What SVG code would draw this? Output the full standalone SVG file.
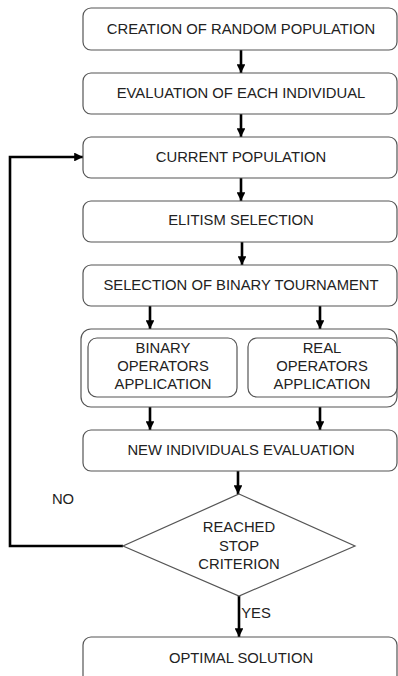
<svg xmlns="http://www.w3.org/2000/svg" width="398" height="676" viewBox="0 0 398 676">
  <style>
    .box { fill: #ffffff; stroke: #555555; stroke-width: 1.2; }
    .lbl { font-family: "Liberation Sans", Arial, sans-serif; font-size: 14.8px; fill: #222222; text-anchor: middle; dominant-baseline: central; }
    .edge { fill: none; stroke: #000000; stroke-width: 2.6; }
  </style>
  <defs>
    <marker id="arrow" viewBox="0 0 10 10" refX="10" refY="5" markerWidth="3.4" markerHeight="3.4" orient="auto" markerUnits="strokeWidth">
      <path d="M0,0 L10,5 L0,10 Z" fill="#000000"/>
    </marker>
  </defs>
  <rect width="398" height="676" fill="#ffffff"/>

  <g id="connectors">
    <line class="edge" x1="241" y1="50" x2="241" y2="73" marker-end="url(#arrow)"/>
    <line class="edge" x1="241" y1="114" x2="241" y2="137" marker-end="url(#arrow)"/>
    <line class="edge" x1="241" y1="178" x2="241" y2="201" marker-end="url(#arrow)"/>
    <line class="edge" x1="242" y1="242" x2="242" y2="265" marker-end="url(#arrow)"/>
    <line class="edge" x1="150" y1="306" x2="150" y2="329" marker-end="url(#arrow)"/>
    <line class="edge" x1="320" y1="306" x2="320" y2="329" marker-end="url(#arrow)"/>
    <line class="edge" x1="150" y1="407" x2="150" y2="430" marker-end="url(#arrow)"/>
    <line class="edge" x1="320" y1="407" x2="320" y2="430" marker-end="url(#arrow)"/>
    <line class="edge" x1="238" y1="471" x2="238" y2="494" marker-end="url(#arrow)"/>
    <line class="edge" x1="239" y1="596" x2="239" y2="637" marker-end="url(#arrow)"/>
    <polyline class="edge" points="123,546 10,546 10,157 83,157" marker-end="url(#arrow)"/>
    <text class="lbl" x="63" y="499">NO</text>
    <text class="lbl" x="256" y="613">YES</text>
  </g>

  <g id="creation">
    <rect class="box" x="83" y="8" width="314" height="42" rx="8"/>
    <text class="lbl" x="241" y="29">CREATION OF RANDOM POPULATION</text>
  </g>
  <g id="evaluation">
    <rect class="box" x="83" y="73" width="314" height="41" rx="8"/>
    <text class="lbl" x="241" y="93">EVALUATION OF EACH INDIVIDUAL</text>
  </g>
  <g id="current">
    <rect class="box" x="83" y="137" width="314" height="41" rx="8"/>
    <text class="lbl" x="241" y="157">CURRENT POPULATION</text>
  </g>
  <g id="elitism">
    <rect class="box" x="83" y="201" width="314" height="41" rx="8"/>
    <text class="lbl" x="241" y="220">ELITISM SELECTION</text>
  </g>
  <g id="tournament">
    <rect class="box" x="83" y="265" width="314" height="41" rx="8"/>
    <text class="lbl" x="241" y="285">SELECTION OF BINARY TOURNAMENT</text>
  </g>
  <g id="operators">
    <rect class="box" x="81" y="329" width="316" height="78" rx="10"/>
    <g id="binary-ops">
      <rect class="box" x="88" y="338" width="149" height="59" rx="9"/>
      <text class="lbl" x="163" y="348">BINARY</text>
      <text class="lbl" x="163" y="366">OPERATORS</text>
      <text class="lbl" x="163" y="384">APPLICATION</text>
    </g>
    <g id="real-ops">
      <rect class="box" x="248" y="338" width="149" height="59" rx="9"/>
      <text class="lbl" x="322" y="348">REAL</text>
      <text class="lbl" x="322" y="366">OPERATORS</text>
      <text class="lbl" x="322" y="384">APPLICATION</text>
    </g>
  </g>
  <g id="new-eval">
    <rect class="box" x="83" y="430" width="314" height="41" rx="8"/>
    <text class="lbl" x="241" y="450">NEW INDIVIDUALS EVALUATION</text>
  </g>
  <g id="stop">
    <polygon class="box" points="239,494 355,546 239,596 123,546"/>
    <text class="lbl" x="239" y="527">REACHED</text>
    <text class="lbl" x="239" y="546">STOP</text>
    <text class="lbl" x="239" y="564">CRITERION</text>
  </g>
  <g id="optimal">
    <rect class="box" x="83" y="637" width="314" height="60" rx="8"/>
    <text class="lbl" x="241" y="658">OPTIMAL SOLUTION</text>
  </g>
</svg>
